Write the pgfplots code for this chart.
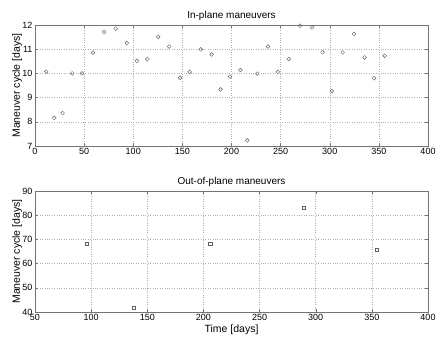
\documentclass[border=0pt]{standalone}
\usepackage{pgfplots}
\pgfplotsset{compat=1.18}
\usepackage{fontspec}
\setmainfont{Liberation Sans}
\definecolor{mk}{gray}{0.38}
\definecolor{fr}{gray}{0.45}
\pgfplotsset{
  mystyle/.style={
    scale only axis,
    width=393pt, height=121pt,
    axis line style={fr, line width=0.5pt},
    tick style={fr, line width=0.4pt},
    major tick length=3pt,
    tick align=inside,
    xtick pos=both, ytick pos=both,
    grid=major,
    major grid style={gray!60, dotted, line width=0.5pt},
    tick label style={font=\fontsize{9}{10}\selectfont, text=black},
    /pgf/number format/assume math mode=true,
    label style={font=\fontsize{10.5}{12}\selectfont},
    title style={font=\fontsize{10}{12}\selectfont, at={(axis description cs:0.5,1)}, anchor=base, yshift=1pt},
    ylabel style={at={(axis description cs:-0.0382,0.5)}, anchor=base},
    xticklabel style={yshift=1pt},
    yticklabel style={xshift=1pt},
  }
}
\begin{document}
\begin{tikzpicture}
\path[use as bounding box] (0,0) rectangle (436pt,338pt);
\begin{axis}[mystyle,
  at={(35pt,192pt)}, anchor=south west,
  xmin=0, xmax=400, ymin=7, ymax=12,
  xtick={0,50,...,400}, ytick={7,8,...,12},
  title={In-plane maneuvers},
  ylabel={Maneuver cycle [days]},
]
\addplot[only marks, mark=o, mark size=1.9pt, mark options={mk, line width=0.45pt}] coordinates {
(11.4,10.07) (19.6,8.16) (28.1,8.36) (37.8,10.0) (47.8,10.0) (59.0,10.86)
(70.3,11.71) (82.1,11.85) (93.4,11.25) (103.7,10.52) (114.3,10.59) (125.4,11.51)
(136.6,11.11) (147.7,9.82) (157.4,10.06) (168.7,10.99) (179.8,10.78) (188.8,9.34)
(198.5,9.87) (209.0,10.14) (216.0,7.23) (226.3,9.99) (237.1,11.11) (247.3,10.06)
(258.2,10.59) (269.7,11.97) (282.0,11.9) (292.8,10.87) (302.0,9.27) (313.1,10.87)
(324.7,11.63) (335.5,10.66) (345.1,9.8) (355.9,10.73)
};
\end{axis}
\begin{axis}[mystyle,
  at={(35pt,26pt)}, anchor=south west,
  xmin=50, xmax=400, ymin=40, ymax=90,
  xtick={50,100,...,400}, ytick={40,50,...,90},
  title={Out-of-plane maneuvers},
  ylabel={Maneuver cycle [days]},
  xlabel={Time [days]},
  xlabel style={at={(axis description cs:0.5,-0.15)}, anchor=center},
]
\addplot[only marks, mark=square, mark size=1.6pt, mark options={mk, line width=0.45pt}] coordinates {
(96.2,68.1) (138,41.7) (206,68.2) (289.4,83) (354.4,65.6)
};
\end{axis}
\end{tikzpicture}
\end{document}
